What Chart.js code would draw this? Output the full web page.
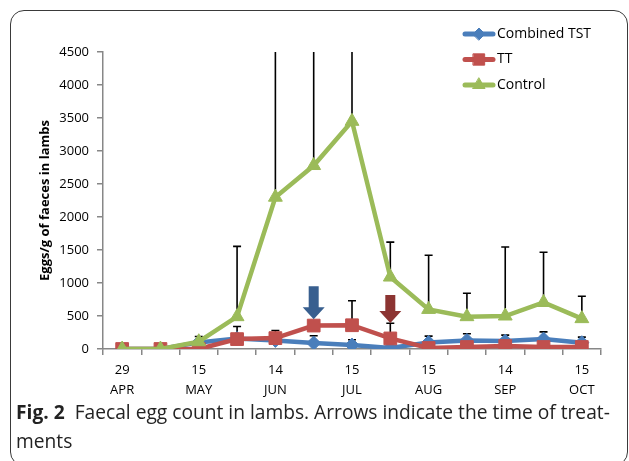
<!DOCTYPE html>
<html>
<head>
<meta charset="utf-8">
<script src="https://cdn.jsdelivr.net/npm/chart.js@4.4.1/dist/chart.umd.min.js"></script>
<style>
  html, body { margin: 0; padding: 0; background: #fff; }
  body { width: 629px; height: 461px; position: relative; overflow: hidden; font-family: "Open Sans", sans-serif; }
  #frame { position: absolute; left: 10px; top: 10px; width: 618px; height: 456px; border: 1px solid #3a3a3a; border-radius: 14px; box-sizing: border-box; }
  #chart { position: absolute; left: 0; top: 0; }
  #caption { position: absolute; left: 16px; top: 397px; width: 612px; font-size: 19.2px; line-height: 29px; color: #222; white-space: nowrap; }
  #caption b { font-weight: 700; margin-right: 5px; }
</style>
</head>
<body>
<div id="frame"></div>
<canvas id="chart" width="629" height="461"></canvas>
<div id="caption"><b>Fig. 2</b> Faecal egg count in lambs. Arrows indicate the time of treat-<br>ments</div>
<script>
// sampling dates, label only every second one
const categories = [['29', 'APR'], '', ['15', 'MAY'], '', ['14', 'JUN'], '', ['15', 'JUL'], '', ['15', 'AUG'], '', ['14', 'SEP'], '', ['15', 'OCT']];

const combinedTST = [0, 0, 100, 160, 130, 90, 60, 15, 100, 130, 120, 150, 95];
const tt = [0, 0, 0, 150, 165, 355, 360, 160, 15, 30, 45, 30, 30];
const control = [0, 0, 110, 490, 2300, 2780, 3450, 1090, 600, 490, 500, 705, 460];

// upper error (SD), null where no bar is visible
const combinedTSTSd = [null, null, 90, null, null, 110, 80, null, 95, 100, 90, 110, 85];
const ttSd = [null, null, null, 190, 115, null, 370, 230, null, null, null, null, null];
const controlSd = [null, null, null, 1065, 3200, 2900, 2600, 530, 820, 355, 1045, 760, 340];

// treatment arrows: category index, value range the arrow spans
const treatmentArrows = [
    { cat: 5, from: 950, to: 450 },
    { cat: 7, from: 820, to: 395 }
];

const yTicks = { min: 0, max: 4500, step: 500 };

const errorBars = {
    id: 'errorBars',
    beforeDatasetsDraw(chart) {
        const { ctx, chartArea, scales: { y } } = chart;
        ctx.save();
        ctx.beginPath();
        ctx.rect(chartArea.left, chartArea.top, chartArea.width, chartArea.height + 20);
        ctx.clip();
        ctx.strokeStyle = '#000';
        ctx.lineWidth = 1.6;
        chart.data.datasets.forEach((ds, i) => {
            const meta = chart.getDatasetMeta(i);
            ds.sd.forEach((sd, j) => {
                if (!sd) {
                    return;
                }
                const pt = meta.data[j];
                const top = y.getPixelForValue(ds.data[j] + sd);
                ctx.beginPath();
                ctx.moveTo(pt.x, pt.y);
                ctx.lineTo(pt.x, top);
                ctx.moveTo(pt.x - 4, top);
                ctx.lineTo(pt.x + 4, top);
                ctx.stroke();
            });
        });
        ctx.restore();
    }
};

const arrowColors = ['#385f8f', '#8c3432'];

const arrows = {
    id: 'arrows',
    afterDatasetsDraw(chart) {
        const { ctx, scales: { x, y } } = chart;
        ctx.save();
        treatmentArrows.forEach((a, i) => {
            const cx = x.getPixelForValue(a.cat);
            const y0 = y.getPixelForValue(a.from);
            const y1 = y.getPixelForValue(a.to);
            const head = 12;
            ctx.fillStyle = arrowColors[i];
            ctx.beginPath();
            ctx.moveTo(cx - 5, y0);
            ctx.lineTo(cx + 5, y0);
            ctx.lineTo(cx + 5, y1 - head);
            ctx.lineTo(cx + 11, y1 - head);
            ctx.lineTo(cx, y1);
            ctx.lineTo(cx - 11, y1 - head);
            ctx.lineTo(cx - 5, y1 - head);
            ctx.closePath();
            ctx.fill();
        });
        ctx.restore();
    }
};

// legend drawn by hand, top right inside the frame
const legendBox = {
    id: 'legendBox',
    afterDraw(chart) {
        const { ctx } = chart;
        ctx.save();
        chart.data.datasets.forEach((ds, i) => {
            const yy = 34 + i * 25.5;
            ctx.strokeStyle = ds.borderColor;
            ctx.fillStyle = ds.borderColor;
            ctx.lineWidth = 5;
            ctx.lineCap = 'round';
            ctx.beginPath();
            ctx.moveTo(465, yy);
            ctx.lineTo(493, yy);
            ctx.stroke();
            ctx.lineWidth = 1;
            Chart.helpers.drawPoint(ctx, {
                pointStyle: ds.pointStyle,
                radius: ds.pointRadius - 1,
                borderWidth: 1
            }, 479, yy);
            ctx.fillStyle = '#000';
            ctx.font = '14px "Open Sans"';
            ctx.textBaseline = 'middle';
            ctx.fillText(ds.label, 497, yy);
        });
        ctx.restore();
    }
};

function series(label, data, sd, color, style, radius, order) {
    return {
        label: label,
        data: data,
        sd: sd,
        borderColor: color,
        backgroundColor: color,
        borderWidth: 4.5,
        pointStyle: style,
        pointRadius: radius,
        pointBackgroundColor: color,
        pointBorderColor: color,
        pointBorderWidth: 1,
        tension: 0,
        order: order
    };
}

const tickFont = { family: 'Open Sans', size: 13 };
const axisGrey = '#878787';

new Chart(document.getElementById('chart').getContext('2d'), {
    type: 'line',
    data: {
        labels: categories,
        datasets: [
            series('Combined TST', combinedTST, combinedTSTSd, '#4a7ebb', 'rectRot', 7, 3),
            series('TT', tt, ttSd, '#c0504d', 'rect', 9, 2),
            series('Control', control, controlSd, '#9bbb59', 'triangle', 8, 1)
        ]
    },
    options: {
        responsive: false,
        animation: false,
        layout: { padding: { left: 37, right: 28, top: 52, bottom: 62 } },
        plugins: {
            legend: { display: false },
            tooltip: { enabled: false }
        },
        scales: {
            x: {
                offset: true,
                grid: { offset: true, drawOnChartArea: false, tickLength: 6, color: axisGrey, lineWidth: 1.5 },
                border: { color: axisGrey, width: 1.5 },
                ticks: { autoSkip: false, maxRotation: 0, color: '#000', font: { family: 'Open Sans', size: 13, lineHeight: 1.55 }, padding: 5 },
                afterFit: (s) => { s.height = 50; }
            },
            y: {
                min: yTicks.min,
                max: yTicks.max,
                ticks: { stepSize: yTicks.step, color: '#000', font: tickFont, padding: 8, callback: (v) => String(v) },
                grid: { drawOnChartArea: false, tickLength: 6, color: axisGrey, lineWidth: 1.5 },
                border: { color: axisGrey, width: 1.5 },
                title: { display: true, text: 'Eggs/g of faeces in lambs', color: '#000', font: { family: 'Open Sans', size: 13, weight: 'bold' }, padding: 0 },
                afterFit: (s) => { s.width = 66; }
            }
        }
    },
    plugins: [errorBars, arrows, legendBox]
});
</script>
</body>
</html>
